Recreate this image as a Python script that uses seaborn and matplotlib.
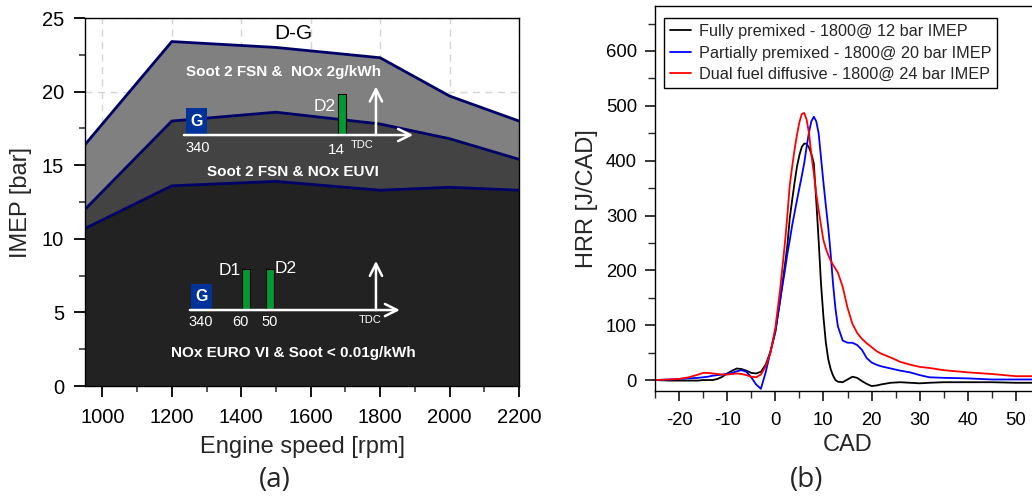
import numpy as np
import pandas as pd
import matplotlib
matplotlib.use('Agg')
import matplotlib.pyplot as plt
from matplotlib.ticker import MultipleLocator
from matplotlib.patches import Rectangle
import seaborn as sns

## ============================================================
## (a) operating map

speed = [950, 1200, 1500, 1800, 2000, 2200]
imep_low = [10.7, 13.6, 13.9, 13.3, 13.5, 13.3]
imep_mid = [12.0, 18.0, 18.6, 17.8, 16.8, 15.4]
imep_high = [16.4, 23.4, 23.0, 22.3, 19.7, 18.0]

region_titles = ['Soot 2 FSN &  NOx 2g/kWh', 'Soot 2 FSN & NOx EUVI', 'NOx EURO VI & Soot < 0.01g/kWh']

## ============================================================
## (b) heat release rate

cad = [-25, -22, -20, -18, -16, -15, -14, -13, -12, -11, -10, -9, -8, -7, -6, -5, -4, -3, -2, -1,
       0, 1, 2, 2.5, 3, 3.5, 4, 4.5, 5, 5.5, 6, 6.5, 7, 7.5, 8, 8.5, 9, 9.5, 10, 10.5, 11, 11.5, 12, 12.5, 13,
       14, 15, 16, 17, 18, 19, 20, 21, 22,
       24, 26, 28, 30, 32, 35, 40, 45, 50, 55]
hrr_full = [0, -1, -1, -1, -1, 0, 0, 0, 2, 6, 12, 17, 21, 20, 17, 13, 12, 15, 28, 52,
            88, 145, 210, 245, 295, 328, 360, 389, 410, 425, 431, 431, 424, 412, 395, 328, 255, 175, 115, 68, 38, 20, 8, 0, -3,
            -4, 1, 6, 4, -2, -7, -11, -10, -8,
            -5, -4, -5, -6, -5, -4, -4, -4, -5, -5]
hrr_partial = [0, 1, 2, 3, 4, 5, 6, 8, 9, 10, 11, 13, 16, 18, 15, 5, -8, -16, 14, 52,
               88, 146, 200, 230, 255, 282, 305, 328, 350, 372, 395, 425, 452, 472, 480, 472, 450, 405, 360, 318, 278, 230, 175, 130, 98,
               72, 68, 68, 64, 55, 40, 32, 28, 25,
               21, 17, 14, 9, 5, 4, 3, 1, 1, 1]
hrr_dual = [0, 1, 2, 5, 10, 13, 13, 12, 11, 10, 10, 11, 12, 11, 9, 6, 5, 10, 25, 50,
            95, 165, 250, 300, 355, 389, 420, 447, 470, 485, 487, 475, 450, 410, 378, 340, 310, 282, 255, 240, 228, 218, 210, 203, 196,
            170, 132, 103, 86, 75, 67, 60, 53, 48,
            41, 33, 28, 24, 22, 18, 14, 11, 7, 7]
cases = ['Fully premixed - 1800@ 12 bar IMEP',
         'Partially premixed - 1800@ 20 bar IMEP',
         'Dual fuel diffusive - 1800@ 24 bar IMEP']

## ============================================================

sns.set_style('ticks')
plt.rcParams['font.family'] = ['Liberation Sans', 'DejaVu Sans']
plt.rcParams['axes.linewidth'] = 1.0
plt.rcParams['axes.unicode_minus'] = False

fig = plt.figure(figsize=(10.32, 4.98), dpi=100)
W, H = 1032., 498.
ax1 = fig.add_axes([85/W, 112/H, 434/W, 368/H])
ax2 = fig.add_axes([655/W, 107/H, 385/W, 385/H])

## =============== (a)

ax1.set_axisbelow(True)
ax1.grid(True, which='major', ls=(0, (5, 4)), color='#d4d4d4', lw=1.0)
ax1.fill_between(speed, 0, imep_low, color='#222222', lw=0, zorder=1)
ax1.fill_between(speed, imep_low, imep_mid, color='#434343', lw=0, zorder=1)
ax1.fill_between(speed, imep_mid, imep_high, color='#808080', lw=0, zorder=1)
for yy in [imep_low, imep_mid, imep_high]:
	sns.lineplot(x=speed, y=yy, color='#000066', lw=2.0, ax=ax1, zorder=2)

ax1.set_xlim(950, 2200)
ax1.set_ylim(0, 25)
ax1.xaxis.set_major_locator(MultipleLocator(200))
ax1.xaxis.set_minor_locator(MultipleLocator(100))
ax1.yaxis.set_major_locator(MultipleLocator(5))
ax1.yaxis.set_minor_locator(MultipleLocator(2.5))
ax1.tick_params(which='major', direction='out', length=8, width=1.3, labelsize=14.5, colors='black')
ax1.tick_params(which='minor', direction='out', length=4.5, width=1.1)
ax1.tick_params(axis='x', which='major', pad=8)
ax1.tick_params(axis='y', which='major', pad=7)
for s in ax1.spines.values():
	s.set_color('black')
	s.set_zorder(5)

ax1.set_xlabel('Engine speed [rpm]', fontsize=17, va='center')
ax1.set_ylabel('IMEP [bar]', fontsize=17, va='center')
ax1.xaxis.set_label_coords(0.5, -0.165)
ax1.yaxis.set_label_coords(-0.148, 0.5)

ax1.text(1551, 23.95, 'D-G', ha='center', va='center', fontsize=15, color='black', zorder=3)
ax1.text(1522, 21.3, region_titles[0], ha='center', va='center', fontsize=11, fontweight='bold', color='white', zorder=3)
ax1.text(1548, 14.55, region_titles[1], ha='center', va='center', fontsize=11, fontweight='bold', color='white', zorder=3)
ax1.text(1550, 2.24, region_titles[2], ha='center', va='center', fontsize=11, fontweight='bold', color='white', zorder=3)

arrow = dict(arrowstyle='->', color='white', lw=1.8, mutation_scale=22, shrinkA=0, shrinkB=0)

# upper injection schematic
base = 17.05
ax1.annotate('', xy=(1895, base), xytext=(1235, base), arrowprops=arrow, zorder=4)
ax1.annotate('', xy=(1788, 20.35), xytext=(1788, base), arrowprops=arrow, zorder=4)
ax1.add_patch(Rectangle((1241, base), 60, 1.85, facecolor='#003399', lw=0, zorder=3))
ax1.text(1271, base + 0.95, 'G', ha='center', va='center', fontsize=11.5, fontweight='bold', color='white', zorder=4)
ax1.add_patch(Rectangle((1678, base), 23, 2.8, facecolor='#009933', edgecolor='black', lw=0.8, zorder=3))
ax1.text(1672, 19.0, 'D2', ha='right', va='center', fontsize=12.5, color='white', zorder=4)
ax1.text(1276, 16.2, '340', ha='center', va='center', fontsize=10.5, color='white', zorder=4)
ax1.text(1675, 16.0, '14', ha='center', va='center', fontsize=11, color='white', zorder=4)
ax1.text(1748, 16.35, 'TDC', ha='center', va='center', fontsize=8, color='white', zorder=4)

# lower injection schematic
base = 5.16
ax1.annotate('', xy=(1857, base), xytext=(1252, base), arrowprops=arrow, zorder=4)
ax1.annotate('', xy=(1788, 8.5), xytext=(1788, base), arrowprops=arrow, zorder=4)
ax1.add_patch(Rectangle((1255, base), 61, 1.77, facecolor='#003399', lw=0, zorder=3))
ax1.text(1285, base + 0.9, 'G', ha='center', va='center', fontsize=11.5, fontweight='bold', color='white', zorder=4)
ax1.add_patch(Rectangle((1403, base), 23, 2.8, facecolor='#009933', edgecolor='black', lw=0.8, zorder=3))
ax1.add_patch(Rectangle((1470, base), 23, 2.8, facecolor='#009933', edgecolor='black', lw=0.8, zorder=3))
ax1.text(1400, 7.85, 'D1', ha='right', va='center', fontsize=12.5, color='white', zorder=4)
ax1.text(1497, 7.95, 'D2', ha='left', va='center', fontsize=12.5, color='white', zorder=4)
ax1.text(1284, 4.35, '340', ha='center', va='center', fontsize=10.5, color='white', zorder=4)
ax1.text(1399, 4.35, '60', ha='center', va='center', fontsize=10.5, color='white', zorder=4)
ax1.text(1481, 4.35, '50', ha='center', va='center', fontsize=10.5, color='white', zorder=4)
ax1.text(1771, 4.45, 'TDC', ha='center', va='center', fontsize=8, color='white', zorder=4)

## =============== (b)

for yy, lab, col in zip([hrr_full, hrr_partial, hrr_dual], cases, ['black', 'blue', 'red']):
	sns.lineplot(x=cad, y=yy, color=col, lw=1.3, label=lab, estimator=None, ax=ax2)

ax2.set_xlim(-25, 55)
ax2.set_ylim(-20, 682)
ax2.xaxis.set_major_locator(MultipleLocator(10))
ax2.xaxis.set_minor_locator(MultipleLocator(5))
ax2.yaxis.set_major_locator(MultipleLocator(100))
ax2.yaxis.set_minor_locator(MultipleLocator(50))
ax2.tick_params(which='major', direction='out', length=7, width=1.1, labelsize=13.3, colors='black')
ax2.tick_params(which='minor', direction='out', length=5, width=1.0)
ax2.tick_params(axis='x', which='major', pad=8)
ax2.tick_params(axis='y', which='major', pad=6)
for s in ax2.spines.values():
	s.set_color('black')

ax2.set_xlabel('CAD', fontsize=17, va='center')
ax2.set_ylabel('HRR [J/CAD]', fontsize=17, va='center')
ax2.xaxis.set_label_coords(0.5, -0.14)
ax2.yaxis.set_label_coords(-0.177, 0.5)

leg = ax2.legend(loc='upper left', bbox_to_anchor=(0.023, 0.968), borderaxespad=0, frameon=True,
		fancybox=False, edgecolor='black', fontsize=11.7, handlelength=1.3, handletextpad=0.5,
		labelspacing=0.4, borderpad=0.35)
leg.get_frame().set_linewidth(1.0)
leg.get_frame().set_alpha(1)

fig.text(275/W, 1 - 480/H, '(a)', ha='center', va='center', fontsize=20, family=['Open Sans', 'DejaVu Sans'])
fig.text(807/W, 1 - 480/H, '(b)', ha='center', va='center', fontsize=20, family=['Open Sans', 'DejaVu Sans'])

fig.savefig('out.png', dpi=100)
